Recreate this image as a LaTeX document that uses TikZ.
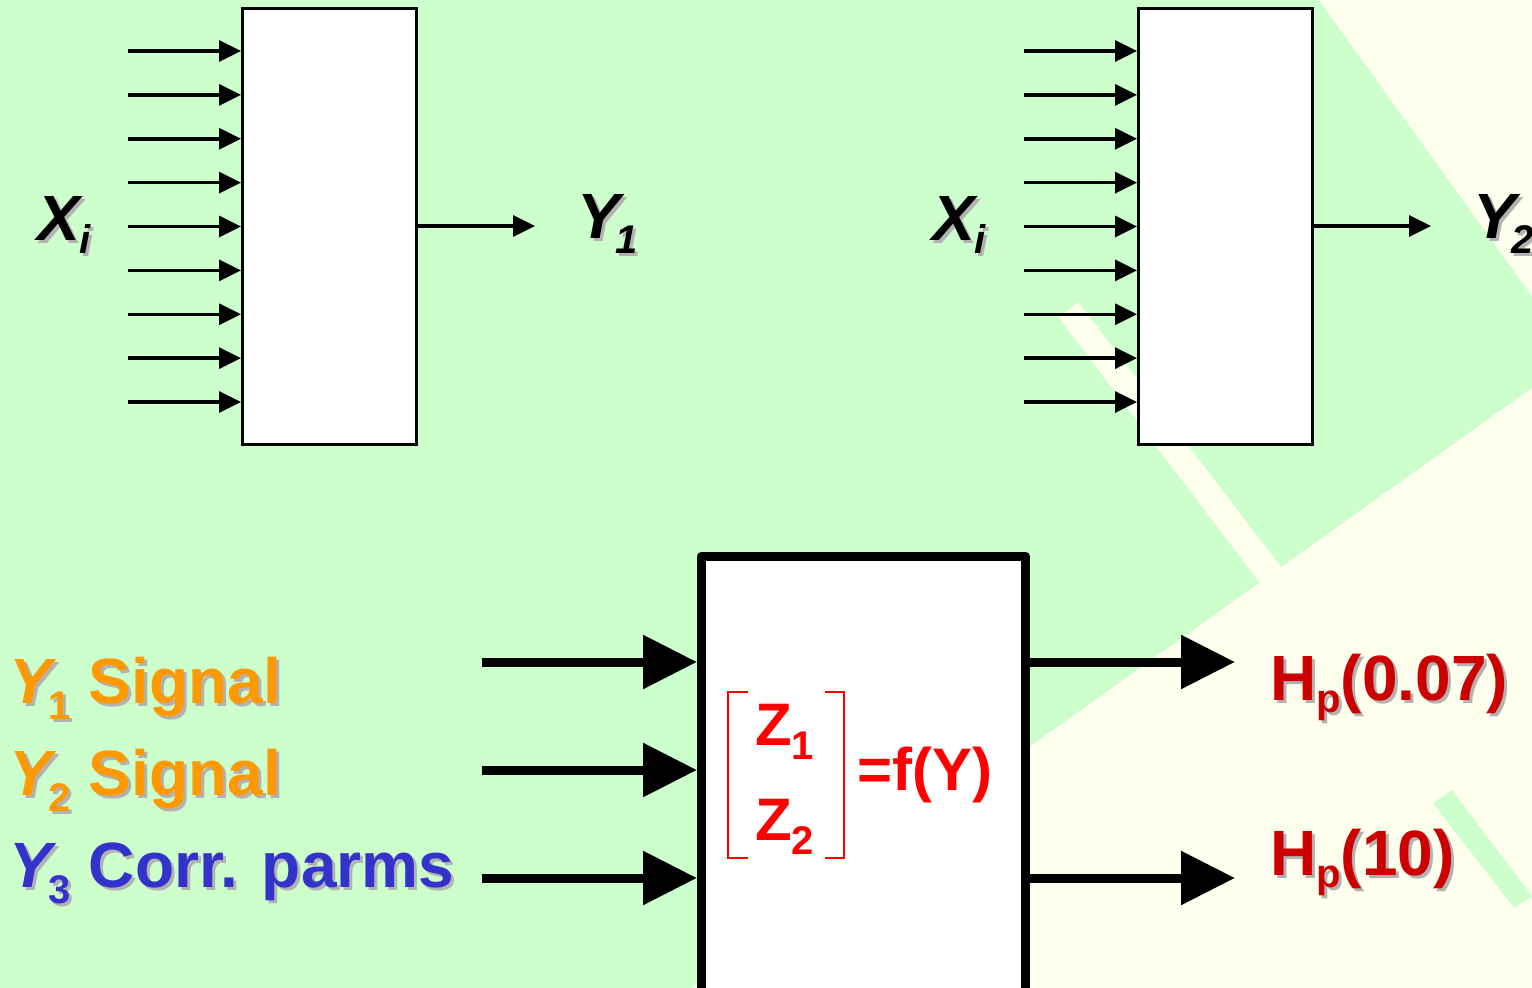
\documentclass[tikz,border=0pt]{standalone}
\usepackage{fontspec}
\setmainfont{Liberation Sans}
\usetikzlibrary{arrows.meta,positioning}

\definecolor{bgmint}{RGB}{204,255,204}
\definecolor{bgcream}{RGB}{255,255,238}
\definecolor{sigorange}{RGB}{255,153,0}
\definecolor{corrblue}{RGB}{51,51,204}
\definecolor{outred}{RGB}{204,0,0}
\definecolor{zred}{RGB}{255,0,0}
\definecolor{shade}{RGB}{178,178,178}

% subscript: lowered, smaller
\newcommand{\idx}[2][16pt]{\raisebox{-#1}{\fontsize{40}{44}\selectfont #2}}
% label with grey drop shadow
\newcommand{\castlabel}[4]{%
  \node[lbl, text=shade, xshift=3pt, yshift=-3pt] (#1-s) at (#2) {#4};
  \node[lbl, text=#3] (#1) at (#2) {#4};}

\tikzset{
  lbl/.style={anchor=base west, inner sep=0pt, font=\bfseries\fontsize{64}{70}\selectfont},
  zlbl/.style={anchor=base west, inner sep=0pt, text=zred, font=\bfseries\fontsize{60}{66}\selectfont},
  thinbox/.style={draw, fill=white, line width=3pt, minimum width=174pt, minimum height=436pt, inner sep=0pt},
  fatbox/.style={draw, fill=white, line width=9pt, line join=round, minimum width=324pt, minimum height=454pt, inner sep=0pt},
  thinarrow/.style={line width=3.5pt, -{Triangle[length=22pt,width=21pt]}},
  fatarrow/.style={line width=9pt, -{Triangle[length=54pt,width=52pt]}},
  zbracket/.style={draw=zred, line width=2.5pt}
}

\begin{document}
\begin{tikzpicture}[x=1pt, y=-1pt]
  \useasboundingbox (0,0) rectangle (1532,988);
  % Background
  \fill[bgmint] (0,0) rectangle (1532,988);
  \fill[bgcream] (1319,0) -- (1532,0) -- (1532,296) -- cycle;
  \fill[bgcream] (1532,388) -- (692,988) -- (1532,988) -- cycle;
  \fill[bgcream] (1059,318) -- (1078,302) -- (1281,567) -- (1260,583) -- cycle;
  \fill[bgmint] (1433,803) -- (1452,790) -- (1532,896) -- (1514,908) -- cycle;

  % Top blocks
  \node[thinbox] (boxA) at (329.5,226) {};
  \node[thinbox] (boxB) at (1225.5,226) {};
  \foreach \k in {0,...,8} {
    \coordinate (inA\k) at (128,51+\k*43.875);
    \coordinate (inB\k) at (1024,51+\k*43.875);
    \draw[thinarrow] (inA\k) -- (inA\k -| boxA.west);
    \draw[thinarrow] (inB\k) -- (inB\k -| boxB.west);
  }
  \coordinate[right=117pt of boxA.east] (outA);
  \coordinate[right=117pt of boxB.east] (outB);
  \draw[thinarrow] (boxA.east) -- (outA);
  \draw[thinarrow] (boxB.east) -- (outB);
  \castlabel{xa}{37,240}{black}{\itshape X\idx[13pt]{i}}
  \castlabel{xb}{932,240}{black}{\itshape X\idx[13pt]{i}}
  \castlabel{ya}{577,238}{black}{\itshape Y\kern-4pt\idx[15pt]{1}}
  \castlabel{yb}{1473,238}{black}{\itshape Y\kern-4pt\idx[15pt]{2}}

  % Bottom block
  \node[fatbox] (boxC) at (863.5,783) {};
  \foreach \y [count=\k] in {662,770,878} {
    \coordinate (inC\k) at (482,\y);
    \draw[fatarrow] (inC\k) -- (inC\k -| boxC.west);
  }
  \foreach \y [count=\k] in {662,878} {
    \coordinate (outC\k) at (1235,\y);
    \draw[fatarrow] (outC\k -| boxC.east) -- (outC\k);
  }
  % Input labels
  \castlabel{sig1}{9,703}{sigorange}{{\itshape Y}\kern-3pt\idx{1} Signal}
  \castlabel{sig2}{9,795}{sigorange}{{\itshape Y}\kern-3pt\idx{2} Signal}
  \castlabel{corr}{9,887}{corrblue}{{\itshape Y}\kern-3pt\idx{3} Corr. parms}
  % Output labels
  \castlabel{hp1}{1270,700}{outred}{H\idx[12pt]{p}(0.07)}
  \castlabel{hp2}{1270,875}{outred}{H\idx[12pt]{p}(10)}
  % Z = f(Y)
  \draw[zbracket] (748,692) -| (728,858) -- (748,858);
  \draw[zbracket] (825,692) -| (844,858) -- (825,858);
  \node[zlbl] (z1) at (755,745) {Z\idx[14pt]{1}};
  \node[zlbl] (z2) at (755,840) {Z\idx[14pt]{2}};
  \node[zlbl] (fy) at (857,790) {=f(Y)};
\end{tikzpicture}
\end{document}
